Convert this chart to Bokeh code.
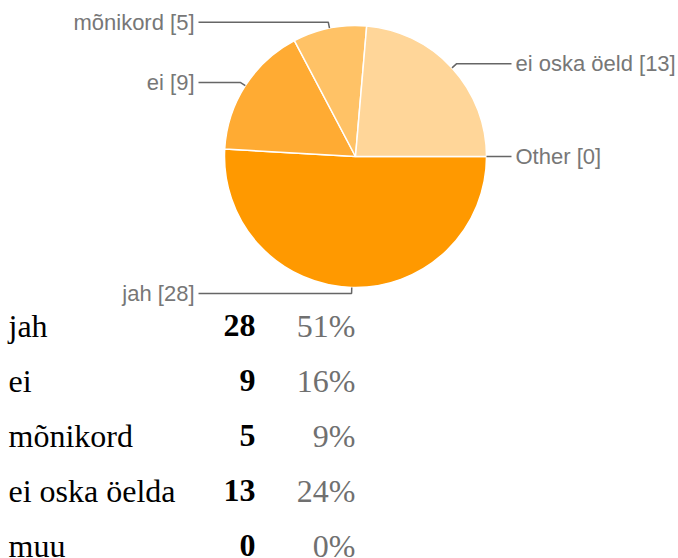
import math
from bokeh.plotting import figure
from bokeh.models import Range1d
from bokeh.core.properties import value
from bokeh.embed import file_html
from bokeh.resources import INLINE

# ---- data ----
categories = ["jah", "ei", "mõnikord", "ei oska öelda", "muu"]
counts = [28, 9, 5, 13, 0]
pie_labels = ["jah", "ei", "mõnikord", "ei oska öeld", "Other"]
colors = ["#FF9900", "#FFAB33", "#FFC266", "#FFD699", "#FFE3B8"]

# ---- layout ----
W, H = 678, 558


def X(xr):
    return xr


def Y(yr):
    return H - yr


p = figure(width=W, height=H, x_range=Range1d(0, W), y_range=Range1d(0, H),
           output_backend="svg", toolbar_location=None, min_border=0)
p.axis.visible = False
p.grid.visible = False
p.outline_line_color = None
p.background_fill_color = "white"

total = sum(counts)
cx, cy, r = X(355), Y(156), 131

# wedges, clockwise from 3 o'clock
cum = 0
starts, ends, mids = [], [], []
for c in counts:
    s = -2 * math.pi * cum / total
    cum += c
    e = -2 * math.pi * cum / total
    starts.append(s)
    ends.append(e)
    mids.append((s + e) / 2)

for i, c in enumerate(counts):
    if c > 0:
        p.wedge(x=cx, y=cy, radius=r, start_angle=starts[i], end_angle=ends[i],
                direction="clock", fill_color=colors[i], line_color="white",
                line_width=1.5)

# leader lines and labels
left_col, right_col = X(198), X(511)
for i, c in enumerate(counts):
    a = mids[i]
    ex, ey = cx + r * math.cos(a), cy + r * math.sin(a)
    kx, ky = cx + (r + 6) * math.cos(a), cy + (r + 6) * math.sin(a)
    right = math.cos(a) >= 0
    col = right_col if right else left_col
    p.line([ex, kx, col], [ey, ky, ky], line_color="#666666", line_width=1.5)
    p.text(x=[col + 4 if right else col - 4], y=[ky],
           text=[f"{pie_labels[i]} [{c}]"],
           text_align="left" if right else "right", text_baseline="middle",
           text_font=value("Liberation Sans"), text_font_size="22px",
           text_color="#777777")

# table
rows_y = [Y(325 + 55 * k) for k in range(len(categories))]
pcts = [f"{round(100 * c / total)}%" for c in counts]
p.text(x=[X(8)] * len(categories), y=rows_y, text=categories,
       text_align="left", text_baseline="middle",
       text_font=value("Liberation Serif"), text_font_size="32px",
       text_color="black")
p.text(x=[X(255)] * len(categories), y=rows_y, text=[str(c) for c in counts],
       text_align="right", text_baseline="middle",
       text_font=value("Liberation Serif"), text_font_size="32px",
       text_font_style="bold", text_color="black")
p.text(x=[X(355)] * len(categories), y=rows_y, text=pcts,
       text_align="right", text_baseline="middle",
       text_font=value("Liberation Serif"), text_font_size="32px",
       text_color="#707070")

open("out.html", "w").write(file_html(p, INLINE))
